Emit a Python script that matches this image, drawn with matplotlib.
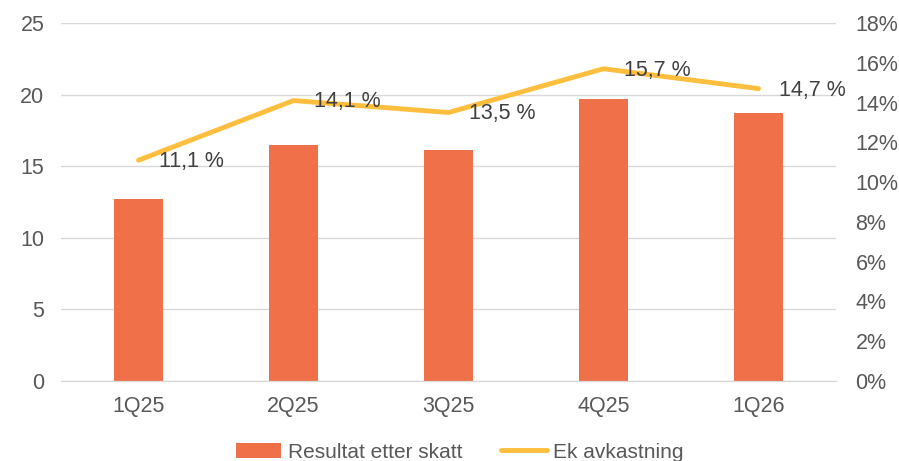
import matplotlib.pyplot as plt
import numpy as np

plt.rcParams['font.family'] = ['Liberation Sans', 'DejaVu Sans']

quarters = ['1Q25', '2Q25', '3Q25', '4Q25', '1Q26']
resultat = [12.7, 16.5, 16.1, 19.7, 18.7]
ek_avkastning = [11.1, 14.1, 13.5, 15.7, 14.7]
ek_labels = ['11,1 %', '14,1 %', '13,5 %', '15,7 %', '14,7 %']

bar_color = '#F0704A'
line_color = '#FFBE3D'
text_color = '#595959'
fs = 15.5

fig = plt.figure(figsize=(8.99, 4.61), dpi=100)
ax = fig.add_axes([61 / 899, 1 - 381 / 461, 775 / 899, 358 / 461])
ax2 = ax.twinx()

x = np.arange(len(quarters))
ax.bar(x, resultat, width=0.32, color=bar_color, zorder=2,
       label='Resultat etter skatt')
ax.set_xlim(-0.5, len(quarters) - 0.5)
ax.set_ylim(0, 25)
ax.set_yticks(range(0, 26, 5))
ax.grid(axis='y', color='#D9D9D9', linewidth=1, zorder=0)
ax.set_xticks(x)
ax.set_xticklabels(quarters)

ax2.plot(x, ek_avkastning, color=line_color, linewidth=3.5,
         solid_capstyle='round', zorder=3, label='Ek avkastning')
ax2.set_ylim(0, 18)
ax2.set_yticks(range(0, 19, 2))
ax2.set_yticklabels([f'{v}%' for v in range(0, 19, 2)])
for xi, yi, lab in zip(x, ek_avkastning, ek_labels):
    ax2.annotate(lab, (xi, yi), xytext=(15, -1), textcoords='offset points',
                 ha='left', va='center', fontsize=fs, color='#404040')

for a in (ax, ax2):
    for s in ('top', 'left', 'right'):
        a.spines[s].set_visible(False)
    a.spines['bottom'].set_color('#D9D9D9')
    a.tick_params(length=0, labelsize=fs, colors=text_color)
ax.tick_params(axis='x', pad=11)
ax.tick_params(axis='y', pad=12)
ax2.tick_params(axis='y', pad=14)

h1, l1 = ax.get_legend_handles_labels()
h2, l2 = ax2.get_legend_handles_labels()
leg = fig.legend(h1 + h2, l1 + l2, loc='center',
                 bbox_to_anchor=(0.5 + 10 / 899, 1 - 452 / 461),
                 ncol=2, frameon=False, fontsize=15, handlelength=2.2,
                 columnspacing=1.85, handletextpad=0.3, borderpad=0)
for t in leg.get_texts():
    t.set_color(text_color)

fig.savefig('out.png', dpi=100)
